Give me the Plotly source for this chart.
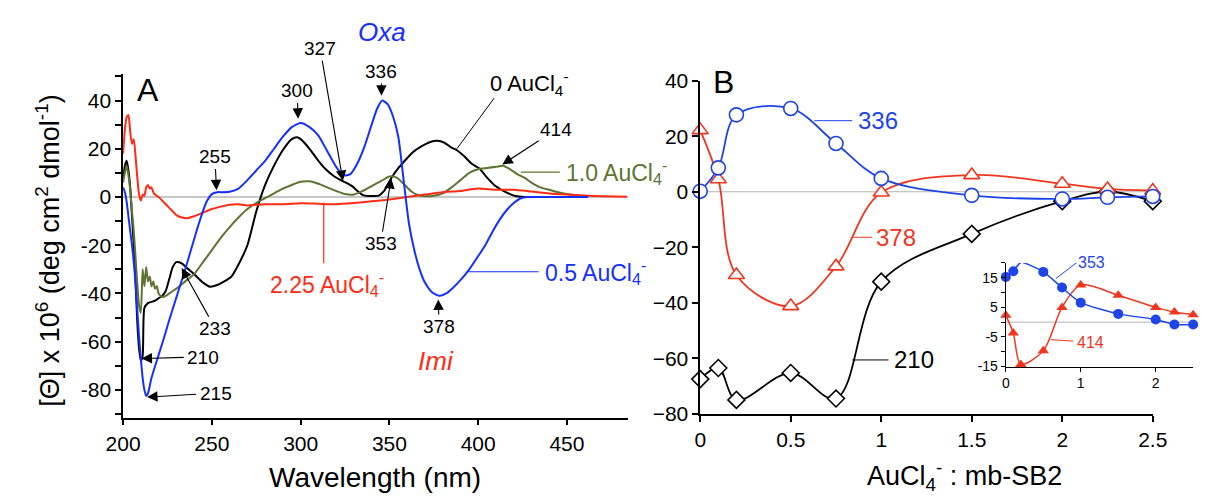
import plotly.graph_objects as go

# ---------------- Panel A : CD spectra ----------------
wl_black = [200, 201, 202, 203, 204, 205, 206, 207, 208, 209, 210, 211, 212, 214, 216, 218, 220, 222,
            224, 226, 228, 230, 233, 236, 240, 245, 249, 253, 257, 261, 265, 270, 275, 280, 285, 290,
            295, 298, 300, 305, 310, 314, 319, 324, 329, 332, 335, 338, 341, 344, 347, 351, 355, 358,
            363, 368, 373, 377, 381, 385, 388, 392, 396, 401, 405, 409, 413, 417, 421, 426, 432]
cd_black = [8, 13, 15, 11, 4, -8, -20, -35, -52, -63, -68, -66, -46, -44, -43.5, -43, -42, -41,
            -39, -34, -29, -27, -27.5, -29.5, -32, -35.5, -37.2, -36.5, -35, -33, -28, -20, -6, 5, 13, 19.5,
            24, 24.8, 24, 20, 15, 11.6, 8.5, 6.5, 4.5, 2.5, 0.8, 0.4, 0.4, 0.6, 2.5, 7.8, 12, 14.5,
            18.5, 21, 22.8, 23.3, 22.5, 20.5, 19.4, 17, 14, 11.6, 8, 5, 3, 1.5, 0.4, 0, 0]

wl_blue = [200, 201, 202, 203, 204, 205, 206, 207, 208, 209, 210, 211, 212, 213, 214, 216, 220, 223,
           226, 229, 232, 235, 238, 241, 244, 247, 250, 253, 256, 260, 265, 270, 275, 280, 285, 290,
           295, 300, 305, 310, 315, 320, 324, 328, 332, 336, 340, 343, 346, 349, 352, 355, 358, 361,
           364, 367, 370, 374, 378, 382, 386, 390, 395, 400, 404, 408, 412, 416, 420, 424, 428, 440,
           450, 462]
cd_blue = [4, 2, -2, -8, -14, -20, -27, -36, -47, -58, -67, -75, -80, -82.5, -81.5, -75, -65.5, -58.5,
           -51, -44, -37, -30, -22.5, -15, -8, -2, 1.2, 2, 2, 2.2, 3.5, 7, 11, 15, 20, 25,
           29, 30.7, 29, 25.5, 19, 12.5, 9, 9.5, 14, 21, 30, 36.5, 40, 38.5, 33.5, 25, 7, -11,
           -22, -30, -35.5, -39.5, -41, -40, -37.5, -34.5, -30, -24.5, -20, -14.5, -9.5, -5.5, -2.5, -0.5, 0, 0,
           0, 0]

wl_green = [200, 201, 202, 203, 204, 205, 206, 207, 208, 209, 210, 211, 212, 213, 214, 215, 216, 217,
            218, 219, 220, 222, 224, 226, 228, 230, 235, 240, 245, 250, 255, 260, 265, 270, 275, 280,
            285, 290, 295, 300, 305, 310, 315, 320, 325, 330, 335, 340, 345, 350, 354, 358, 362, 366,
            370, 375, 380, 385, 390, 395, 400, 405, 410, 414, 418, 422, 426, 430, 435, 440, 445, 450,
            455, 462]
cd_green = [6, 10, 13, 9, 3, -6, -14, -25, -36, -45, -48, -30, -37, -29, -35, -33, -37, -35,
            -38, -37, -40, -41.5, -41, -40, -39, -38, -35, -32, -27, -22, -17, -12.5, -8.5, -5, -2.5, -0.5,
            1.5, 3.5, 5, 6.3, 6.5, 5.5, 4, 2.5, 1.2, 1, 2.5, 4.5, 6.5, 8.5, 8, 5.5, 2.5, 0.8,
            0.3, 0.5, 1.5, 4, 7, 10, 11.5, 12, 12.5, 13, 11.5, 9.5, 8, 6, 4, 3, 2, 1.2,
            0.6, 0.2]

wl_red = [200, 201, 202, 203, 204, 205, 206, 207, 208, 209, 210, 211, 212, 213, 214, 215, 216, 217,
          218, 220, 222, 224, 226, 228, 230, 233, 236, 240, 245, 250, 255, 260, 265, 270, 275, 280,
          290, 300, 310, 320, 330, 340, 350, 360, 370, 380, 390, 400, 410, 420, 430, 440, 450, 460,
          470, 484]
cd_red = [18, 28, 33, 34, 27, 22, 24, 17, 8, 1, -1.5, 1, 0.5, 4, 5, 3.5, 4, 2,
          1, 0, -1.5, -3, -4.5, -6, -7.5, -8.5, -8.8, -8, -6.5, -5, -4, -3.2, -3, -3.5, -3.2, -3,
          -3, -2.6, -2.8, -3, -2.5, -1.8, -1, 0, 1, 2, 2.5, 3.5, 3, 3, 2.3, 1.5, 1, 0.6,
          0.3, 0.1]

# ---------------- Panel B : titration ----------------
ratio = [0, 0.1, 0.2, 0.5, 0.75, 1, 1.5, 2, 2.25, 2.5]
b336 = [0.2, 8.6, 27.7, 30, 17.4, 4.8, -1.3, -2.6, -2.0, -1.7]
b378 = [22.2, 4.5, -30, -41.2, -26.9, -0.3, 6, 2.9, 1.0, 0.4]
b210 = [-67.5, -63.5, -75, -65.3, -74.5, -32.4, -15.2, -3.4, 0, -3.4]
# inset
i353 = [15.3, 17.2, 20.2, 17, 11.7, 6.6, 2.8, 0.9, -0.8, -0.8]
i414 = [2.3, -3.7, -14.3, -9.7, 5, 12.6, 9.1, 5, 3.4, 2.5]

BLUE = "#1330ff"
RED = "#ff2b14"
OLIVE = "#5d7433"
BBLUE = "#1e44e8"
BRED = "#f0361e"
FONT = "Liberation Sans, Arial, sans-serif"

W, H = 1232, 504
def px(x):
    return x / W
def py(y):
    return 1 - y / H

# panel A plot-area geometry (pixels)
AX0, AX1, AXR = 108, 627, (200, 484.5)
AY0, AY1, AYR = 425, 65, (-91.5, 51)
def pA(nm, v):
    xp = AX0 + (nm - AXR[0]) * (AX1 - AX0) / (AXR[1] - AXR[0])
    yp = AY0 - (v - AYR[0]) * (AY0 - AY1) / (AYR[1] - AYR[0])
    return px(xp), py(yp)

fig = go.Figure()

# Panel A traces
for wl, cd, col in [(wl_black, cd_black, "black"), (wl_green, cd_green, OLIVE),
                    (wl_red, cd_red, RED), (wl_blue, cd_blue, BLUE)]:
    fig.add_trace(go.Scatter(x=wl, y=cd, mode="lines", xaxis="x", yaxis="y",
                             line=dict(color=col, width=2, shape="spline", smoothing=0.6),
                             showlegend=False, hoverinfo="skip"))

# Panel B traces
fig.add_trace(go.Scatter(x=ratio, y=b210, mode="lines+markers", xaxis="x2", yaxis="y2", cliponaxis=False,
                         line=dict(color="black", width=1.8, shape="spline", smoothing=1.0),
                         marker=dict(symbol="diamond", size=13, color="white", line=dict(color="black", width=1.6)),
                         showlegend=False))
fig.add_trace(go.Scatter(x=ratio, y=b378, mode="lines+markers", xaxis="x2", yaxis="y2", cliponaxis=False,
                         line=dict(color=BRED, width=1.8, shape="spline", smoothing=1.0),
                         marker=dict(symbol="triangle-up", size=14, color="white", line=dict(color=BRED, width=1.6)),
                         showlegend=False))
fig.add_trace(go.Scatter(x=ratio, y=b336, mode="lines+markers", xaxis="x2", yaxis="y2", cliponaxis=False,
                         line=dict(color=BBLUE, width=1.8, shape="spline", smoothing=1.0),
                         marker=dict(symbol="circle", size=14, color="white", line=dict(color=BBLUE, width=1.6)),
                         showlegend=False))

# Inset traces
fig.add_trace(go.Scatter(x=ratio, y=i414, mode="lines+markers", xaxis="x3", yaxis="y3", cliponaxis=False,
                         line=dict(color=BRED, width=1.5, shape="spline", smoothing=0.8),
                         marker=dict(symbol="triangle-up", size=10, color=BRED),
                         showlegend=False))
fig.add_trace(go.Scatter(x=ratio, y=i353, mode="lines+markers", xaxis="x3", yaxis="y3", cliponaxis=False,
                         line=dict(color=BBLUE, width=1.5, shape="spline", smoothing=0.6),
                         marker=dict(symbol="circle", size=10, color=BBLUE),
                         showlegend=False))

axcommon = dict(showline=True, linecolor="black", linewidth=1.5, ticks="outside", tickcolor="black",
                ticklen=6, tickwidth=1.5, showgrid=False, zeroline=False,
                tickfont=dict(family=FONT, size=21, color="black"))

yA_vals = list(range(-90, 51, 10))
yA_text = [str(v) if v % 20 == 0 else "" for v in yA_vals]
yI_vals = list(range(-15, 21, 5))
yI_text = [str(v) if v in (-15, -5, 5, 15) else "" for v in yI_vals]

fig.update_layout(
    width=W, height=H, margin=dict(l=0, r=0, t=0, b=0), autosize=False,
    plot_bgcolor="white", paper_bgcolor="white",
    xaxis=dict(axcommon, domain=[px(AX0), px(AX1)], range=list(AXR), anchor="y",
               tickvals=[200, 250, 300, 350, 400, 450]),
    yaxis=dict(axcommon, domain=[py(AY0), py(AY1)], range=list(AYR), anchor="x",
               tickvals=yA_vals, ticktext=yA_text),
    xaxis2=dict(axcommon, domain=[px(701), px(1166)], range=[0, 2.5], anchor="y2",
                tickvals=[0, 0.5, 1, 1.5, 2, 2.5], ticktext=["0", "0.5", "1", "1.5", "2", "2.5"]),
    yaxis2=dict(axcommon, domain=[py(421), py(72)], range=[-80, 40], anchor="x2",
                tickvals=[-80, -60, -40, -20, 0, 20, 40]),
    xaxis3=dict(axcommon, domain=[px(1015), px(1207.5)], range=[0, 2.5], anchor="y3",
                tickvals=[0, 1, 2], linewidth=1.2, tickwidth=1.2, ticklen=4,
                tickfont=dict(family=FONT, size=14, color="black")),
    yaxis3=dict(axcommon, domain=[py(371.5), py(263)], range=[-15, 20], anchor="x3",
                tickvals=yI_vals, ticktext=yI_text, linewidth=1.2, tickwidth=1.2, ticklen=4,
                tickfont=dict(family=FONT, size=14, color="black")),
)

GRAY = "#b4b4b4"
shapes = [
    dict(type="line", xref="x", yref="y", x0=200, x1=484, y0=0, y1=0, line=dict(color=GRAY, width=1.5), layer="below"),
    dict(type="line", xref="x2", yref="y2", x0=0, x1=2.5, y0=0, y1=0, line=dict(color=GRAY, width=1.2), layer="below"),
    dict(type="line", xref="x3", yref="y3", x0=0, x1=2.5, y0=0, y1=0, line=dict(color=GRAY, width=1.0), layer="below"),
    # connector lines (panel A)
    dict(type="line", xref="x", yref="y", x0=409, y0=41, x1=388, y1=20, line=dict(color="black", width=1)),
    dict(type="line", xref="x", yref="y", x0=424, y0=10.3, x1=446, y1=10.3, line=dict(color=OLIVE, width=1.2)),
    dict(type="line", xref="x", yref="y", x0=394.5, y0=-31, x1=434, y1=-31, line=dict(color=BLUE, width=1.2)),
    dict(type="line", xref="x", yref="y", x0=313, y0=-2.4, x1=313, y1=-27.5, line=dict(color=RED, width=1.2)),
    # connector lines (panel B)
    dict(type="line", xref="x2", yref="y2", x0=0.63, y0=25.6, x1=0.84, y1=25.6, line=dict(color=BBLUE, width=1)),
    dict(type="line", xref="x2", yref="y2", x0=0.84, y0=-16.4, x1=0.95, y1=-16.4, line=dict(color=BRED, width=1)),
    dict(type="line", xref="x2", yref="y2", x0=0.84, y0=-60.6, x1=1.04, y1=-60.6, line=dict(color="black", width=1)),
    dict(type="line", xref="x3", yref="y3", x0=0.67, y0=14.8, x1=0.95, y1=20.2, line=dict(color=BBLUE, width=1)),
    dict(type="line", xref="x3", yref="y3", x0=0.6, y0=-5.9, x1=0.9, y1=-6.4, line=dict(color=BRED, width=1)),
]
fig.update_layout(shapes=shapes)

ann = []
def text(x, y, s, size=19, color="black", xref="x", yref="y", xanchor="center", italic=False, yanchor="middle"):
    if italic:
        s = "<i>" + s + "</i>"
    ann.append(dict(x=x, y=y, xref=xref, yref=yref, text=s, showarrow=False, xanchor=xanchor, yanchor=yanchor,
                    font=dict(family=FONT, size=size, color=color)))

def label_arrow(tx, ty, hx, hy, s, size=19):
    # text placed at (tx, ty); arrow runs from the text box to the head at (hx, hy)
    ann.append(dict(x=hx, y=hy, ax=tx, ay=ty, xref="x", yref="y", axref="x", ayref="y", text=s,
                    showarrow=True, arrowhead=2, arrowsize=1.9, arrowwidth=1.1, arrowcolor="black",
                    standoff=0, startstandoff=0, font=dict(family=FONT, size=size, color="black")))

def arrow(x0, y0, x1, y1):
    ann.append(dict(x=x1, y=y1, ax=x0, ay=y0, xref="x", yref="y", axref="x", ayref="y", text="",
                    showarrow=True, arrowhead=2, arrowsize=1.9, arrowwidth=1.1, arrowcolor="black"))

SUB = "AuCl<sub>4</sub><sup>-</sup>"
# Panel A labels
text(214, 44.5, "A", size=32)
ox, oy = pA(346, 68.5)
text(ox, oy, "Oxa", size=26, color=BLUE, italic=True, xref="paper", yref="paper")
text(376, -68, "Imi", size=26, color=RED, italic=True)
label_arrow(298, 44, 298.6, 32.5, "300")
label_arrow(311, 61.5, 323.8, 6.7, "327")
label_arrow(345.5, 52, 345.5, 42, "336")
label_arrow(251.7, 16.6, 252.6, 2.8, "255")
label_arrow(345, -19.4, 351, 7.8, "353")
label_arrow(378, -53.7, 377.5, -42.5, "378")
label_arrow(444, 28, 413.6, 13.5, "414")
label_arrow(252, -54.6, 233, -29.5, "233")
text(235, -66.5, "210", 19, xanchor="left"); arrow(235, -66.5, 210.4, -67)
text(242, -81.6, "215", 19, xanchor="left"); arrow(242, -81.8, 213.5, -83)
text(405.4, 47, "0 " + SUB, 22, xanchor="left")
text(448.4, 10.3, "1.0 " + SUB, 23, color=OLIVE, xanchor="left")
text(436.6, -31, "0.5 " + SUB, 23, color=BLUE, xanchor="left")
text(315, -36, "2.25 " + SUB, 23, color=RED)

# Panel B labels
text(0.126, 39.5, "B", size=32, xref="x2", yref="y2")
text(0.86, 25.6, "336", 24, color=BBLUE, xref="x2", yref="y2", xanchor="left")
text(0.96, -16.4, "378", 24, color=BRED, xref="x2", yref="y2", xanchor="left")
text(1.06, -60.6, "210", 24, color="black", xref="x2", yref="y2", xanchor="left")
text(px(1087), py(262), "353", 16, color=BBLUE, xref="paper", yref="paper", xanchor="left")
text(0.92, -6.8, "414", 16, color=BRED, xref="x3", yref="y3", xanchor="left")

# Axis titles
text(px(367), py(488), "Wavelength (nm)", 28, xref="paper", yref="paper")
text(px(973), py(486), SUB + " : mb-SB2", 27, xref="paper", yref="paper")
ann.append(dict(x=px(30), y=py(250), xref="paper", yref="paper", showarrow=False, textangle=-90,
                text="[\u0398] x 10<sup>6</sup> (deg cm<sup>2</sup> dmol<sup>-1</sup>)",
                font=dict(family=FONT, size=27, color="black"), xanchor="center", yanchor="middle"))

fig.update_layout(annotations=ann)
fig.write_html("out.html")
